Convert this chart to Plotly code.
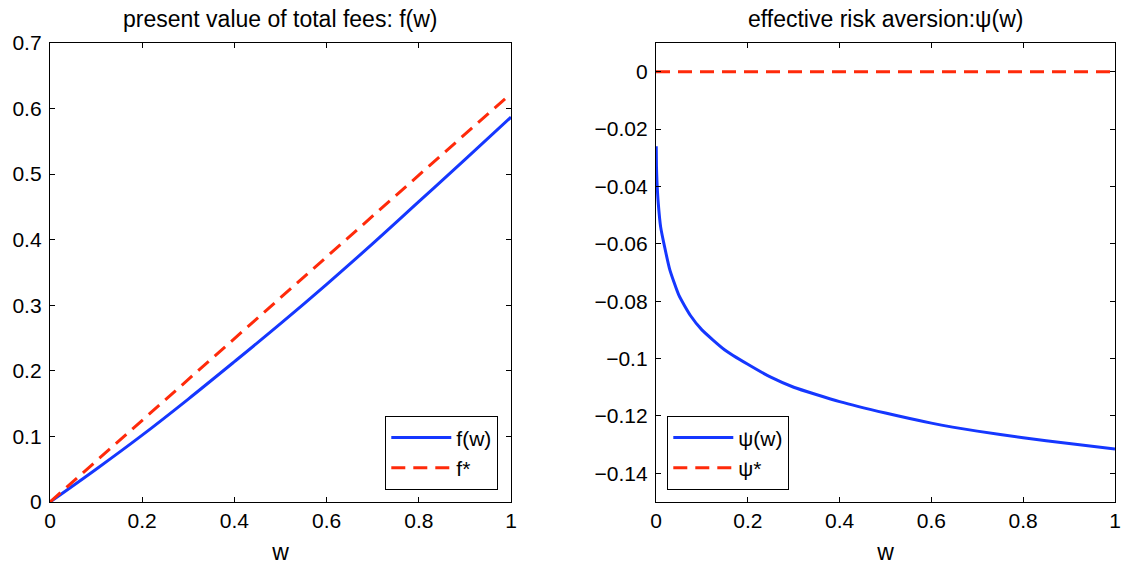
import plotly.graph_objects as go
from plotly.subplots import make_subplots

# ---- data ----
w_f = [0, 0.1, 0.2, 0.3, 0.4, 0.5, 0.6, 0.7, 0.8, 0.9, 1.0]
f_w = [0, 0.050, 0.102, 0.157, 0.214, 0.272, 0.332, 0.394, 0.458, 0.522, 0.587]
w_fstar = [0, 1.0]
f_star = [0, 0.623]

w_psi = [0.0005, 0.001, 0.002, 0.005, 0.01, 0.02, 0.03, 0.05, 0.075, 0.1, 0.15,
         0.2, 0.25, 0.3, 0.4, 0.5, 0.6, 0.7, 0.8, 0.9, 1.0]
psi_w = [-0.026, -0.033, -0.038, -0.046, -0.054, -0.062, -0.069, -0.078, -0.085,
         -0.090, -0.097, -0.102, -0.1065, -0.110, -0.115, -0.119, -0.1225, -0.1253,
         -0.1276, -0.1296, -0.1315]
w_psistar = [0, 1.0]
psi_star = [0, 0]

BLUE = "#1537ff"
RED = "#ff2a0a"
FONT = "Liberation Sans, Arial, Helvetica, sans-serif"
FS = 21
FS_T = 23

fig = make_subplots(rows=1, cols=2)

fig.add_trace(go.Scatter(x=w_f, y=f_w, mode="lines", name="f(w)",
                         line=dict(color=BLUE, width=3, shape="spline"),
                         legend="legend"), row=1, col=1)
fig.add_trace(go.Scatter(x=w_fstar, y=f_star, mode="lines", name="f*",
                         line=dict(color=RED, width=3, dash="14px,8px"),
                         legend="legend"), row=1, col=1)
fig.add_trace(go.Scatter(x=w_psi, y=psi_w, mode="lines", name="ψ(w)",
                         line=dict(color=BLUE, width=3, shape="spline", smoothing=0.5),
                         legend="legend2"), row=1, col=2)
fig.add_trace(go.Scatter(x=w_psistar, y=psi_star, mode="lines", name="ψ*",
                         line=dict(color=RED, width=3, dash="14px,8px"),
                         legend="legend2"), row=1, col=2)

axis_common = dict(showline=True, linecolor="black", linewidth=1.3, mirror="ticks",
                   ticks="inside", ticklen=5, tickcolor="black", tickwidth=1,
                   showgrid=False, zeroline=False, automargin=False,
                   tickfont=dict(family=FONT, size=FS, color="black"))

fig.update_xaxes(range=[0, 1], dtick=0.2, tick0=0,
                 title=dict(text="w", font=dict(family=FONT, size=FS_T, color="black"), standoff=12),
                 **axis_common)
fig.update_xaxes(domain=[50/1122, 511/1122], row=1, col=1)
fig.update_xaxes(domain=[656/1122, 1115/1122], row=1, col=2)

fig.update_yaxes(domain=[1 - 502/567, 1 - 43/567], ticklabelstandoff=3, **axis_common)
fig.update_yaxes(range=[0, 0.7], dtick=0.1, tick0=0, row=1, col=1)
fig.update_yaxes(range=[-0.15, 0.01], dtick=0.02, tick0=0, row=1, col=2)

legend_common = dict(bgcolor="white", bordercolor="black", borderwidth=1.3,
                     font=dict(family=FONT, size=FS, color="black"),
                     yanchor="bottom", tracegroupgap=0, itemwidth=60)

fig.update_layout(
    width=1122, height=567,
    margin=dict(l=0, r=0, t=0, b=0),
    paper_bgcolor="white", plot_bgcolor="white",
    font=dict(family=FONT, size=FS, color="black"),
    legend=dict(x=498/1122, xanchor="right", y=1 - 490/567, **legend_common),
    legend2=dict(x=667/1122, xanchor="left", y=1 - 490/567, **legend_common),
    annotations=[
        dict(text="present value of total fees: f(w)", x=(50 + 511) / 2 / 1122, y=1 - 19/567,
             xref="paper", yref="paper", showarrow=False, xanchor="center", yanchor="middle",
             font=dict(family=FONT, size=FS_T, color="black")),
        dict(text="effective risk aversion:ψ(w)", x=(656 + 1115) / 2 / 1122, y=1 - 19/567,
             xref="paper", yref="paper", showarrow=False, xanchor="center", yanchor="middle",
             font=dict(family=FONT, size=FS_T, color="black")),
    ],
)

fig.write_html("out.html", config={"displayModeBar": False},
               post_script="document.body.style.margin='0';document.body.style.overflow='hidden';")
